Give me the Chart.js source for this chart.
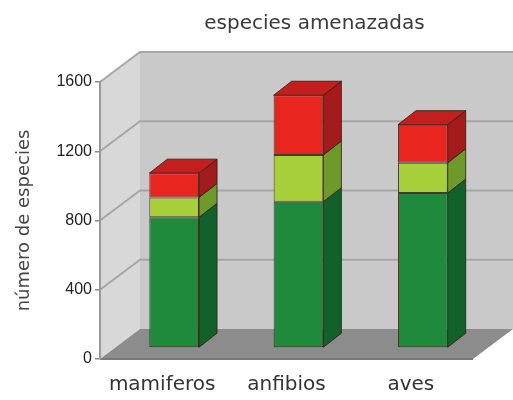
<!DOCTYPE html>
<html>
<head>
<meta charset="utf-8">
<script src="https://cdn.jsdelivr.net/npm/chart.js@4"></script>
<style>
  body { margin: 0; background: #fff; }
  #contenedor { width: 513px; height: 400px; }
</style>
</head>
<body>
<div id="contenedor"><canvas id="GraficoEspecies" width="513" height="400"></canvas></div>
<script>
// datos del grafico
var titulo = 'especies amenazadas';
var categorias = ['mamiferos', 'anfibios', 'aves'];
var verdeOscuro = [755, 845, 895];
var verdeClaro = [115, 270, 175];
var rojo = [140, 345, 220];
var ticksY = [0, 400, 800, 1200, 1600];

// profundidad de las paredes y de las barras (3D)
var PARED_X = 40, PARED_Y = -30;
var BARRA_X = 12, BARRA_Y = -11;
var LADO_X = 18, LADO_Y = -14;

// colores de caras laterales y superiores
var ladoColores = ['#12602a', '#6e9a2c', '#a31b1b'];
var topeColor = '#c21f1f';

var fuente = "'DejaVu Sans', sans-serif";

///////////////////////////////////////////////////////////////////////////////
// PAREDES Y PISO
///////////////////////////////////////////////////////////////////////////////
var paredes = {
	id: 'paredes',
	beforeDraw: function(chart){
		var ctx = chart.ctx;
		var a = chart.chartArea;
		var y = chart.scales.y;
		ctx.save();
		// pared del fondo
		ctx.fillStyle = '#c9c9c9';
		ctx.fillRect(a.left + PARED_X, a.top + PARED_Y, a.right - a.left, a.bottom - a.top);
		// pared izquierda
		ctx.fillStyle = '#d8d8d8';
		ctx.beginPath();
		ctx.moveTo(a.left, a.bottom);
		ctx.lineTo(a.left, a.top);
		ctx.lineTo(a.left + PARED_X, a.top + PARED_Y);
		ctx.lineTo(a.left + PARED_X, a.bottom + PARED_Y);
		ctx.closePath();
		ctx.fill();
		// lineas de la cuadricula
		ctx.strokeStyle = '#a6a6a6';
		ctx.lineWidth = 2;
		ticksY.forEach(function(v){
			if (v == 0) return;
			var py = y.getPixelForValue(v);
			ctx.beginPath();
			ctx.moveTo(a.left, py);
			ctx.lineTo(a.left + PARED_X, py + PARED_Y);
			ctx.lineTo(a.right + PARED_X, py + PARED_Y);
			ctx.stroke();
		});
		// piso
		ctx.fillStyle = '#8c8c8c';
		ctx.beginPath();
		ctx.moveTo(a.left, a.bottom);
		ctx.lineTo(a.right, a.bottom);
		ctx.lineTo(a.right + PARED_X, a.bottom + PARED_Y);
		ctx.lineTo(a.left + PARED_X, a.bottom + PARED_Y);
		ctx.closePath();
		ctx.fill();
		ctx.strokeStyle = '#7a7a7a';
		ctx.lineWidth = 2;
		ctx.beginPath();
		ctx.moveTo(a.left, a.bottom);
		ctx.lineTo(a.right, a.bottom);
		ctx.stroke();
		// titulo, centrado sobre la caja 3D
		ctx.fillStyle = '#3a3a3a';
		ctx.font = '20px ' + fuente;
		ctx.textAlign = 'center';
		ctx.textBaseline = 'middle';
		ctx.fillText(titulo, (a.left + a.right + PARED_X) / 2 + 8, 24);
		ctx.restore();
	},
	// las barras van un poco hacia el fondo
	beforeDatasetsDraw: function(chart){
		chart.ctx.save();
		chart.ctx.translate(BARRA_X, BARRA_Y);
	},
	afterDatasetsDraw: function(chart){
		var ctx = chart.ctx;
		var ultimo = chart.data.datasets.length - 1;
		chart.data.datasets.forEach(function(ds, i){
			var meta = chart.getDatasetMeta(i);
			meta.data.forEach(function(bar){
				var p = bar.getProps(['x', 'y', 'base', 'width'], true);
				var izq = p.x - p.width / 2, der = p.x + p.width / 2;
				ctx.strokeStyle = 'rgba(50,30,20,0.85)';
				ctx.lineWidth = 1;
				// cara lateral
				ctx.fillStyle = ladoColores[i];
				ctx.beginPath();
				ctx.moveTo(der, p.y);
				ctx.lineTo(der + LADO_X, p.y + LADO_Y);
				ctx.lineTo(der + LADO_X, p.base + LADO_Y);
				ctx.lineTo(der, p.base);
				ctx.closePath();
				ctx.fill();
				ctx.stroke();
				// cara superior
				if (i == ultimo){
					ctx.fillStyle = topeColor;
					ctx.beginPath();
					ctx.moveTo(izq, p.y);
					ctx.lineTo(izq + LADO_X, p.y + LADO_Y);
					ctx.lineTo(der + LADO_X, p.y + LADO_Y);
					ctx.lineTo(der, p.y);
					ctx.closePath();
					ctx.fill();
					ctx.stroke();
				}
			});
		});
		ctx.restore();
	}
};

var myChartEspecies = new Chart('GraficoEspecies', {
	type: 'bar',
	data: {
		labels: categorias,
		datasets: [
			{ label: 'verde', data: verdeOscuro, backgroundColor: '#208a3c' },
			{ label: 'verde claro', data: verdeClaro, backgroundColor: '#a6cf3a' },
			{ label: 'rojo', data: rojo, backgroundColor: '#e8251f' }
		].map(function(d){
			d.borderColor = 'rgba(50,30,20,0.85)';
			d.borderWidth = 1;
			d.borderSkipped = false;
			d.barPercentage = 0.8;
			d.categoryPercentage = 0.5;
			d.clip = false;
			return d;
		})
	},
	options: {
		responsive: false,
		animation: false,
		layout: { padding: { left: 0, right: 40, top: 82, bottom: 0 } },
		plugins: {
			legend: { display: false },
			tooltip: { enabled: false },
			title: { display: false }
		},
		scales: {
			x: {
				stacked: true,
				grid: { display: false },
				border: { display: false },
				ticks: { color: '#333', font: { family: fuente, size: 20 }, padding: 6 },
				afterFit: function(s){ s.height = 41; }
			},
			y: {
				stacked: true,
				min: 0,
				max: 1600,
				afterBuildTicks: function(s){ s.ticks = ticksY.map(function(v){ return { value: v }; }); },
				grid: { drawOnChartArea: false, drawTicks: true, tickLength: 5, color: '#888', lineWidth: 1.5 },
				border: { display: true, color: '#999', width: 2 },
				ticks: {
					color: '#222',
					font: { family: "'Liberation Sans', sans-serif", size: 16 },
					padding: 3,
					callback: function(v){ return String(v); }
				},
				title: {
					display: true,
					text: 'número de especies',
					color: '#444',
					font: { family: fuente, size: 18 },
					padding: { top: 14, bottom: 0 }
				},
				afterFit: function(s){ s.width = 100; }
			}
		}
	},
	plugins: [paredes]
});
</script>
</body>
</html>
